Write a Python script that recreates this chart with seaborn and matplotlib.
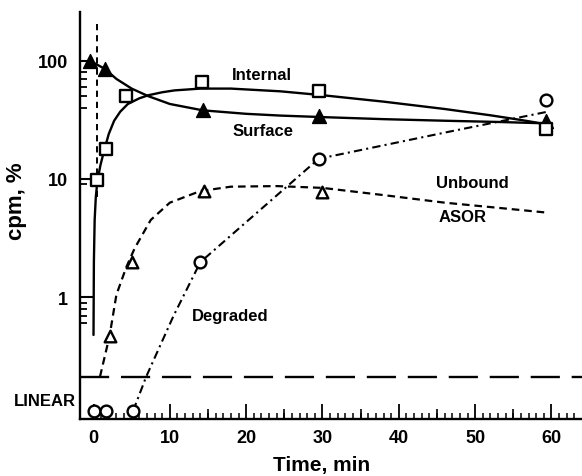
import numpy as np
import pandas as pd
import matplotlib
matplotlib.use("Agg")
import matplotlib.pyplot as plt
import seaborn as sns
from matplotlib.ticker import FixedLocator, NullFormatter

# Pontos medidos (tempo em min, cpm em %)
surface_t = [-0.5, 1.5, 14.3, 29.6, 59.3]
surface_y = [100, 85, 38, 34, 31]

internal_t = [0.5, 1.6, 4.3, 14.2, 29.5, 59.3]
internal_y = [9.7, 18, 50.5, 65.5, 55.5, 26.5]

unbound_t = [2.1, 5.0, 14.5, 29.9]
unbound_y = [0.47, 2.0, 7.9, 7.8]

degraded_lin_t = [0.0, 1.7, 5.2]
degraded_lin_y = [0.0, 0.0, 0.0]
degraded_t = [14.0, 29.5, 59.3]
degraded_y = [1.98, 14.8, 46.6]

# Curvas ajustadas
surface_curve_t = [-0.5, 1.5, 3, 5, 7.2, 10, 14.3, 20, 24.5, 30, 38, 46.3, 53, 59.3]
surface_curve_y = [100, 85, 70, 58, 50, 43, 38, 35.5, 34.3, 33.3, 32, 31, 30.3, 29.5]

internal_curve_t = [0.0, 0.05, 0.15, 0.3, 0.5, 0.9, 1.4, 2.0, 2.7, 3.5, 4.5, 6.0, 7.2,
                    9.0, 10.6, 14, 18, 24.5, 30, 38, 46, 52, 56, 59.3]
internal_curve_y = [0.48, 2.0, 4.5, 7.0, 9.5, 13, 17.5, 24, 31, 37, 43, 48, 51,
                    54, 56, 58, 58, 55, 51, 45, 39, 34.5, 31.5, 29]

unbound_curve_t = [0.85, 2.1, 3.0, 4.3, 5.4, 7.5, 10, 14, 18, 24, 30, 38, 46, 53, 59.3]
unbound_curve_y = [0.213, 0.47, 1.05, 1.8, 2.6, 4.5, 6.3, 7.9, 8.6, 8.7, 8.4, 7.3, 6.3, 5.7, 5.2]

degraded_curve_t = [5.2, 6.9, 10.5, 14.0, 29.5, 46.5, 59.5]
degraded_curve_y = [0.0, 0.213, 0.70, 1.98, 14.8, 25, 37]

linear_limit = 0.213   # fronteira entre a parte log e a parte LINEAR
vline_t = [0.45, 0.45]
vline_y = [205, 7]

sns.set_style("ticks")
plt.rcParams.update({
    "font.family": ["Liberation Sans", "DejaVu Sans"],
    "font.weight": "bold",
    "axes.labelweight": "bold",
    "text.color": "black",
    "axes.labelcolor": "black",
    "xtick.color": "black",
    "ytick.color": "black",
    "lines.scale_dashes": False,
})

fig = plt.figure(figsize=(5.82, 4.77), dpi=100)
ax = fig.add_axes([80 / 582, 57 / 477, 502 / 582, 406.7 / 477])

ax.set_yscale("symlog", linthresh=linear_limit, linscale=0.2585)
ax.set_xlim(-1.77, 64.0)
ax.set_ylim(-0.052, 256)

line_kw = dict(color="black", sort=False, estimator=None, ax=ax, legend=False)

# curvas
sns.lineplot(x=surface_curve_t, y=surface_curve_y, lw=1.7, **line_kw)
sns.lineplot(x=internal_curve_t, y=internal_curve_y, lw=1.7, **line_kw)
sns.lineplot(x=unbound_curve_t, y=unbound_curve_y, lw=1.6,
             linestyle=(0, (5.5, 3.5)), **line_kw)
sns.lineplot(x=degraded_curve_t, y=degraded_curve_y, lw=1.5,
             linestyle=(0, (6, 3, 1.5, 3)), **line_kw)
sns.lineplot(x=vline_t, y=vline_y, lw=1.4, linestyle=(0, (4.5, 3.5)), **line_kw)
ax.axhline(linear_limit, color="black", lw=1.7, linestyle=(0, (21, 8.5)))

# marcadores
sns.scatterplot(x=surface_t, y=surface_y, marker="^", s=100, color="black",
                edgecolor="black", linewidth=1, ax=ax, zorder=5)
sns.scatterplot(x=internal_t, y=internal_y, marker="s", s=75, facecolor="white",
                edgecolor="black", linewidth=1.7, ax=ax, zorder=5)
sns.scatterplot(x=unbound_t, y=unbound_y, marker="^", s=70, facecolor="white",
                edgecolor="black", linewidth=1.7, ax=ax, zorder=5)
sns.scatterplot(x=degraded_lin_t + degraded_t, y=degraded_lin_y + degraded_y, marker="o",
                s=72, facecolor="white", edgecolor="black", linewidth=1.7, ax=ax, zorder=5)

# textos
txt = dict(fontsize=12, ha="center", va="center")
ax.text(22.1, 77, "Internal", **txt)
ax.text(22.2, 25.5, "Surface", **txt)
ax.text(49.7, 9.4, "Unbound", **txt)
ax.text(48.3, 4.8, "ASOR", **txt)
ax.text(17.9, 0.70, "Degraded", **txt)
ax.text(-2.3, 0.067, "LINEAR", fontsize=12, ha="right", va="center", clip_on=False)

# eixos
for side in ["top", "right"]:
    ax.spines[side].set_visible(False)
for side in ["left", "bottom"]:
    ax.spines[side].set_linewidth(1.7)
    ax.spines[side].set_color("black")

ax.set_yticks([1, 10, 100])
ax.set_yticklabels(["1", "10", "100"])
ax.yaxis.set_minor_locator(FixedLocator([0.6, 0.7, 0.8, 0.9, 9, 40, 50, 60, 70, 80]))
ax.yaxis.set_minor_formatter(NullFormatter())
ax.tick_params(axis="y", which="major", direction="in", length=9.5, width=1.5,
               pad=8.5, labelsize=13, left=True)
ax.tick_params(axis="y", which="minor", direction="in", length=5, width=1.3, left=True)

ax.set_xticks(range(0, 61, 10))
ax.xaxis.set_minor_locator(FixedLocator(list(range(0, 64))))
ax.tick_params(axis="x", which="major", direction="in", length=11, width=1.3,
               pad=7, labelsize=13, bottom=True)
ax.tick_params(axis="x", which="minor", direction="in", length=4, width=1.1, bottom=True)

sec = ax.secondary_xaxis("bottom")
sec.set_xticks(range(5, 61, 10))
sec.set_xticklabels([])
sec.tick_params(direction="in", length=7, width=1.2, bottom=True)
sec.spines["bottom"].set_visible(False)

ax.set_xlabel("Time, min", fontsize=15)
ax.xaxis.set_label_coords(0.482, -0.088)
ax.set_ylabel("cpm, %", fontsize=16)
ax.yaxis.set_label_coords(-0.106, 0.537)
ax.grid(False)

fig.savefig("out.png", dpi=100)
